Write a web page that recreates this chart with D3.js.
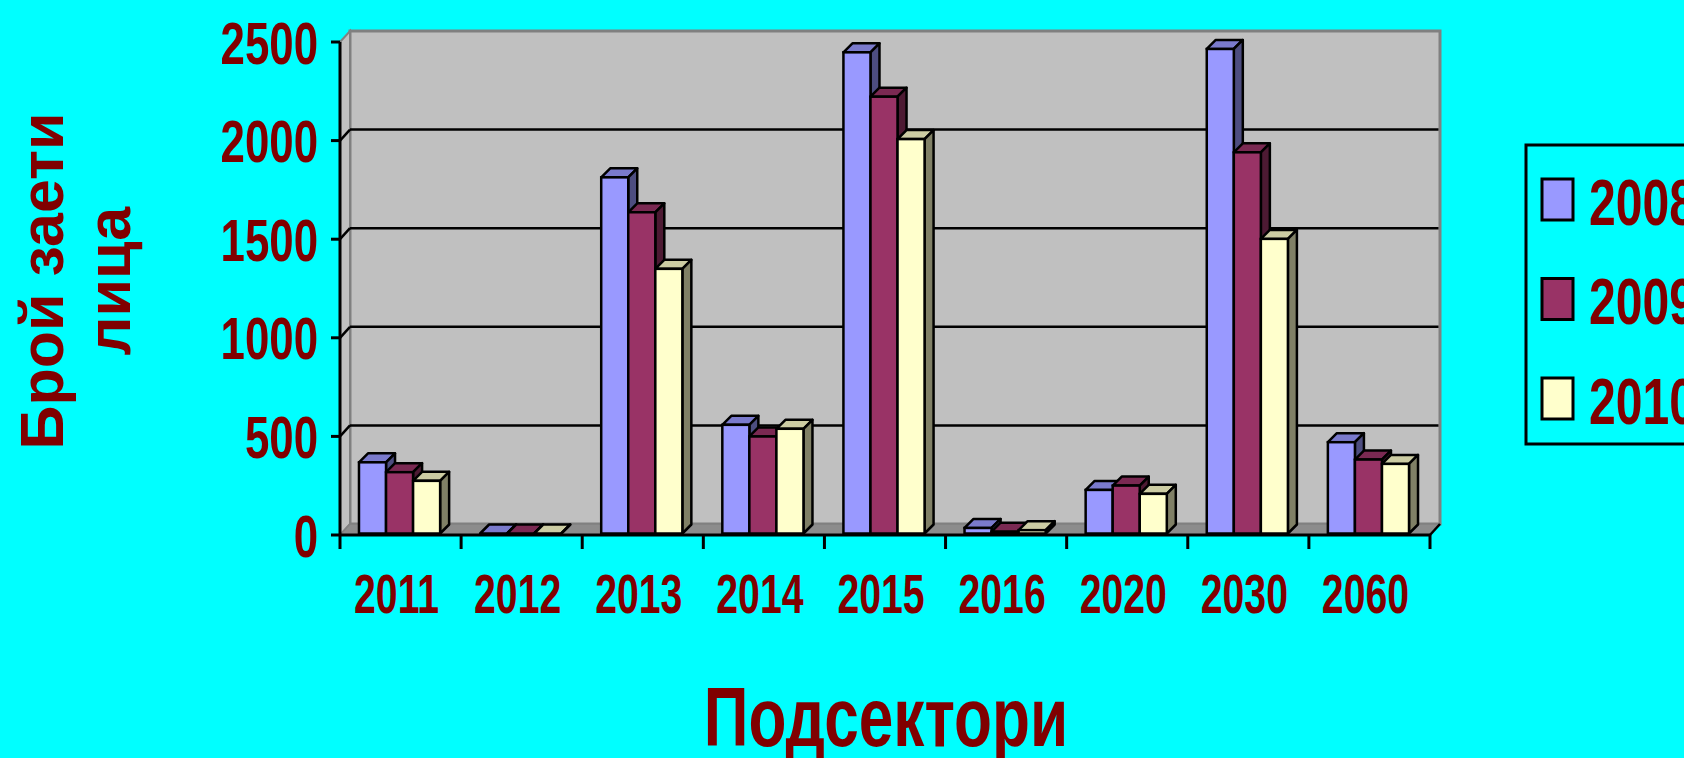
<!DOCTYPE html>
<html>
<head>
<meta charset="utf-8">
<script src="https://cdn.jsdelivr.net/npm/d3@7"></script>
<style>
  html, body { margin: 0; padding: 0; background: #00ffff; }
  svg text { font-family: "Liberation Sans", Arial, sans-serif; font-weight: bold; fill: #800000; }
</style>
</head>
<body>
<div id="chart"></div>
<script>
// chart values
var categories = ['2011', '2012', '2013', '2014', '2015', '2016', '2020', '2030', '2060'];
var seriesNames = ['2008', '2009', '2010'];
var values2008 = [361, 0, 1806, 551, 2440, 28, 221, 2457, 463];
var values2009 = [311, 0, 1629, 492, 2215, 9, 243, 1933, 375];
var values2010 = [267, 0, 1342, 531, 2000, 17, 201, 1494, 353];
var yTicks = [0, 500, 1000, 1500, 2000, 2500];
var yTitleLines = ['Брой заети', 'лица'];
var xTitle = 'Подсектори';

var seriesValues = [values2008, values2009, values2010];

var width = 1684, height = 758;
var front = { left: 340, right: 1430, bottom: 535, top: 42 };
var wallDx = 10, wallDy = -11;   // depth of the walls
var barDx = 9, barDy = -9;       // depth of a column
var barLift = -1.5;

var fills = [
  { face: '#9999ff', top: '#7a7acc', side: '#4d4d80' },
  { face: '#993366', top: '#7a2952', side: '#4d1a33' },
  { face: '#ffffcc', top: '#cccca3', side: '#808066' }
];

var svg = d3.select('#chart').append('svg')
    .attr('width', width)
    .attr('height', height);

var x = d3.scaleBand()
    .domain(categories)
    .range([front.left, front.right]);

var groupWidth = x.bandwidth() * 0.67;
var xs = d3.scaleBand()
    .domain(seriesNames)
    .range([0, groupWidth]);

var y = d3.scaleLinear()
    .domain([0, 2500])
    .range([front.bottom, front.top]);

var pts = (arr) => arr.map((p) => p.join(',')).join(' ');

// walls and floor
var walls = svg.append('g').attr('class', 'walls');

walls.append('polygon')
    .attr('points', pts([
      [front.left + wallDx, y(2500) + wallDy],
      [front.right + wallDx, y(2500) + wallDy],
      [front.right + wallDx, y(0) + wallDy],
      [front.left + wallDx, y(0) + wallDy]
    ]))
    .attr('fill', '#c0c0c0')
    .attr('stroke', '#808080')
    .attr('stroke-width', 3);

walls.append('polygon')
    .attr('points', pts([
      [front.left, y(0)],
      [front.left, y(2500)],
      [front.left + wallDx, y(2500) + wallDy],
      [front.left + wallDx, y(0) + wallDy]
    ]))
    .attr('fill', '#c0c0c0')
    .attr('stroke', '#808080')
    .attr('stroke-width', 2);

walls.append('polygon')
    .attr('points', pts([
      [front.left, y(0)],
      [front.right, y(0)],
      [front.right + wallDx, y(0) + wallDy],
      [front.left + wallDx, y(0) + wallDy]
    ]))
    .attr('fill', '#8c8c8c')
    .attr('stroke', '#808080')
    .attr('stroke-width', 1.5);

// gridlines on the back and left walls
var grid = svg.append('g').attr('class', 'grid');
var gridVals = yTicks.filter((t) => t > 0 && t < 2500);

grid.selectAll('.g-back')
  .data(gridVals)
  .enter().append('line')
    .attr('x1', front.left + wallDx)
    .attr('x2', front.right + wallDx - 1.5)
    .attr('y1', (d) => y(d) + wallDy)
    .attr('y2', (d) => y(d) + wallDy)
    .attr('stroke', '#000')
    .attr('stroke-width', 2.5);

grid.selectAll('.g-side')
  .data(gridVals)
  .enter().append('line')
    .attr('x1', front.left)
    .attr('x2', front.left + wallDx)
    .attr('y1', (d) => y(d))
    .attr('y2', (d) => y(d) + wallDy)
    .attr('stroke', '#000')
    .attr('stroke-width', 2.5);

// columns
var bars = svg.append('g').attr('class', 'bars');

categories.forEach((cat, ci) => {
  var g = bars.append('g');
  seriesNames.forEach((s, si) => {
    var v = seriesValues[si][ci];
    var x0 = x(cat) + (x.bandwidth() - groupWidth) / 2 - 1 + xs(s);
    var x1 = x0 + xs.bandwidth();
    var yt = y(v) + barLift;
    var yb = y(0) + barLift;
    var c = fills[si];

    g.append('polygon')
        .attr('points', pts([[x0, yt], [x0 + barDx, yt + barDy], [x1 + barDx, yt + barDy], [x1, yt]]))
        .attr('fill', c.top)
        .attr('stroke', '#000')
        .attr('stroke-width', 2.5)
        .attr('stroke-linejoin', 'round');

    g.append('polygon')
        .attr('points', pts([[x1, yt], [x1 + barDx, yt + barDy], [x1 + barDx, yb + barDy], [x1, yb]]))
        .attr('fill', c.side)
        .attr('stroke', '#000')
        .attr('stroke-width', 2.5)
        .attr('stroke-linejoin', 'round');

    g.append('rect')
        .attr('x', x0)
        .attr('y', yt)
        .attr('width', xs.bandwidth())
        .attr('height', Math.max(0, yb - yt))
        .attr('fill', c.face)
        .attr('stroke', '#000')
        .attr('stroke-width', 2.5);
  });
});

// axes
var axes = svg.append('g').attr('class', 'axes');

axes.append('line')
    .attr('x1', front.left).attr('x2', front.left)
    .attr('y1', y(0)).attr('y2', y(2500))
    .attr('stroke', '#000').attr('stroke-width', 3);

axes.selectAll('.ytick')
  .data(yTicks)
  .enter().append('line')
    .attr('x1', front.left - 9).attr('x2', front.left)
    .attr('y1', (d) => y(d)).attr('y2', (d) => y(d))
    .attr('stroke', '#000').attr('stroke-width', 3);

axes.append('line')
    .attr('x1', front.left).attr('x2', front.right)
    .attr('y1', y(0)).attr('y2', y(0))
    .attr('stroke', '#000').attr('stroke-width', 3);

axes.append('line')
    .attr('x1', front.right).attr('x2', front.right + wallDx)
    .attr('y1', y(0)).attr('y2', y(0) + wallDy)
    .attr('stroke', '#000').attr('stroke-width', 2.5);

var xTickPos = categories.map((c) => x(c)).concat([front.right]);
axes.selectAll('.xtick')
  .data(xTickPos)
  .enter().append('line')
    .attr('x1', (d) => d).attr('x2', (d) => d)
    .attr('y1', y(0)).attr('y2', y(0) + 14)
    .attr('stroke', '#000').attr('stroke-width', 3);

// tick labels
axes.selectAll('.ylabel')
  .data(yTicks)
  .enter().append('text')
    .attr('transform', (d) => 'translate(318,' + (y(d) + 21.5) + ') scale(0.73,1)')
    .attr('text-anchor', 'end')
    .style('font-size', '60px')
    .text((d) => d);

axes.selectAll('.xlabel')
  .data(categories)
  .enter().append('text')
    .attr('transform', (d) => 'translate(' + (x(d) + x.bandwidth() / 2 - 4) + ',613) scale(0.7,1)')
    .attr('text-anchor', 'middle')
    .style('font-size', '56px')
    .text((d) => d);

// titles
svg.append('text')
    .attr('transform', 'translate(886,746) scale(0.74,1)')
    .attr('text-anchor', 'middle')
    .style('font-size', '84px')
    .text(xTitle);

svg.selectAll('.ytitle')
  .data(yTitleLines)
  .enter().append('text')
    .attr('transform', (d, i) => 'translate(' + (63 + i * 67) + ',281) rotate(-90)')
    .attr('text-anchor', 'middle')
    .style('font-size', '61px')
    .text((d) => d);

// legend
var legend = svg.append('g').attr('class', 'legend');

legend.append('rect')
    .attr('x', 1526).attr('y', 145)
    .attr('width', 200).attr('height', 299)
    .attr('fill', 'none')
    .attr('stroke', '#000')
    .attr('stroke-width', 3);

var ly = d3.scalePoint()
    .domain(seriesNames)
    .range([199.5, 398.5]);

legend.selectAll('.lkey')
  .data(seriesNames)
  .enter().append('rect')
    .attr('x', 1542).attr('y', (d) => ly(d) - 20.5)
    .attr('width', 31).attr('height', 41)
    .attr('fill', (d, i) => fills[i].face)
    .attr('stroke', '#000')
    .attr('stroke-width', 3);

legend.selectAll('.ltext')
  .data(seriesNames)
  .enter().append('text')
    .attr('transform', (d) => 'translate(1589,' + (ly(d) + 25) + ') scale(0.74,1)')
    .style('font-size', '65px')
    .text((d) => d);
</script>
</body>
</html>
